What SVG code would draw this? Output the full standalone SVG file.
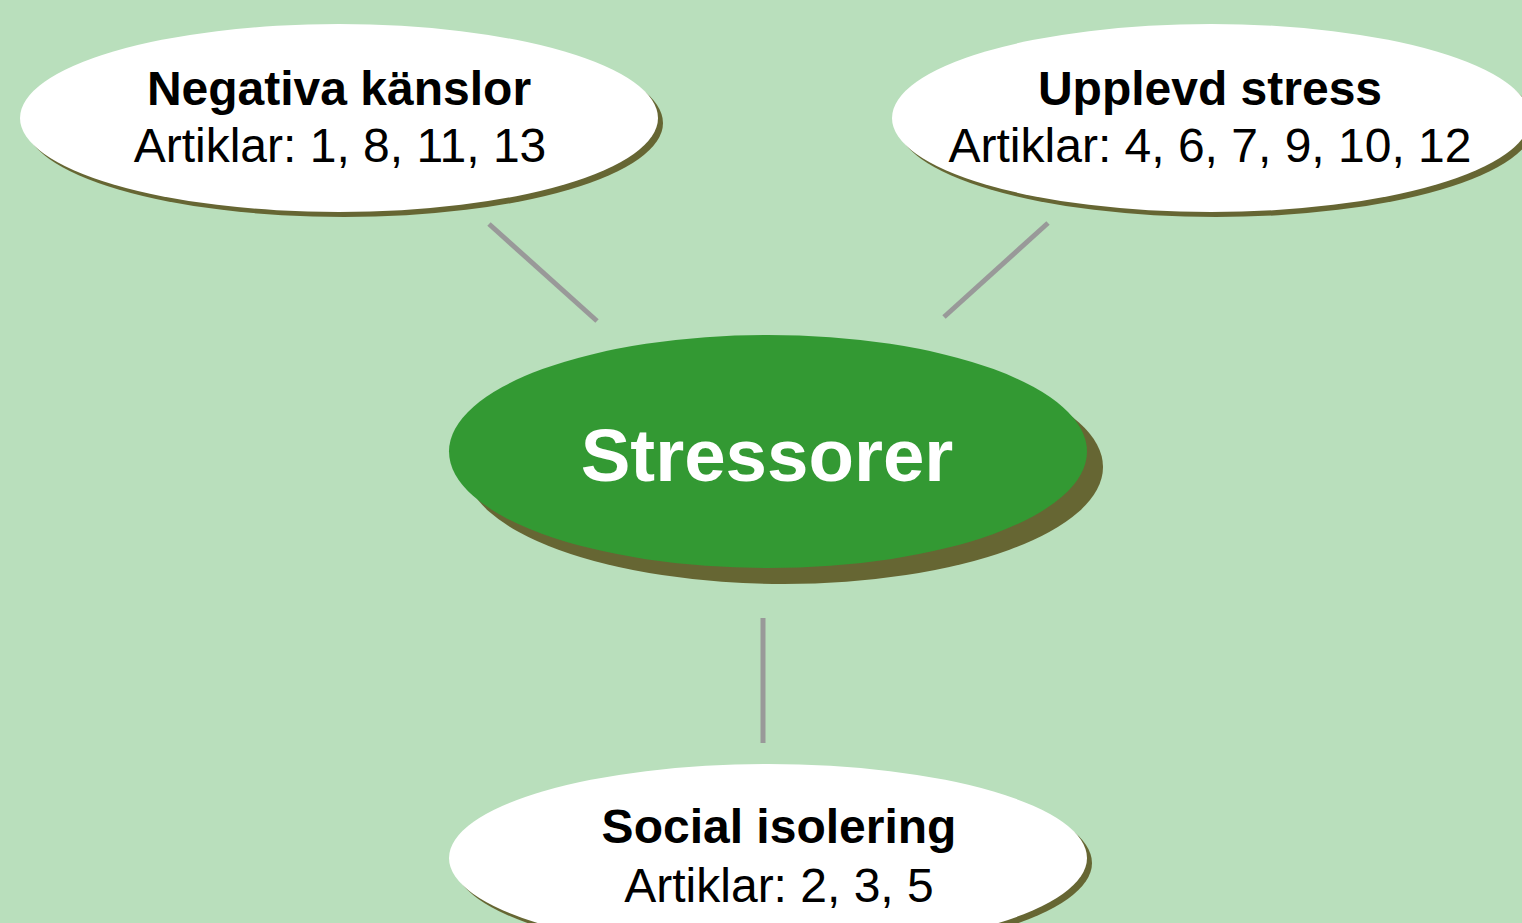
<svg xmlns="http://www.w3.org/2000/svg" width="1522" height="923" viewBox="0 0 1522 923">
<style>
.bg{fill:#b9dfbc}
.shadow{fill:#666633}
.white{fill:#ffffff}
.green{fill:#339933}
.conn{stroke:#999999;stroke-width:5;fill:none}
.t{font-family:"Liberation Sans",Arial,sans-serif;text-anchor:middle;fill:#000000}
.b{font-weight:bold}
</style>
<rect class="bg" x="0" y="0" width="1522" height="923"/>
<g id="connectors">
<line class="conn" x1="489" y1="224" x2="597" y2="321"/>
<line class="conn" x1="1048" y1="223" x2="944" y2="317"/>
<line class="conn" x1="763" y1="618" x2="763" y2="743"/>
</g>
<g id="node-negativa">
<ellipse class="shadow" cx="344" cy="123" rx="319" ry="94"/>
<ellipse class="white" cx="339" cy="118" rx="319" ry="94"/>
<text class="t b" x="339" y="105" font-size="48">Negativa känslor</text>
<text class="t" x="340" y="162" font-size="48">Artiklar: 1, 8, 11, 13</text>
</g>
<g id="node-upplevd">
<ellipse class="shadow" cx="1216" cy="123" rx="319" ry="94"/>
<ellipse class="white" cx="1211" cy="118" rx="319" ry="94"/>
<text class="t b" x="1210" y="105" font-size="48">Upplevd stress</text>
<text class="t" x="1210" y="162" font-size="48">Artiklar: 4, 6, 7, 9, 10, 12</text>
</g>
<g id="node-stressorer">
<ellipse class="shadow" cx="784" cy="467" rx="319" ry="117"/>
<ellipse class="green" cx="768" cy="451.5" rx="319" ry="116.5"/>
<text class="t b" x="767" y="481" font-size="74.5" style="fill:#ffffff">Stressorer</text>
</g>
<g id="node-social">
<ellipse class="shadow" cx="773" cy="863" rx="319" ry="94"/>
<ellipse class="white" cx="768" cy="858" rx="319" ry="94"/>
<text class="t b" x="779" y="843" font-size="48">Social isolering</text>
<text class="t" x="779" y="902" font-size="48">Artiklar: 2, 3, 5</text>
</g>
</svg>
